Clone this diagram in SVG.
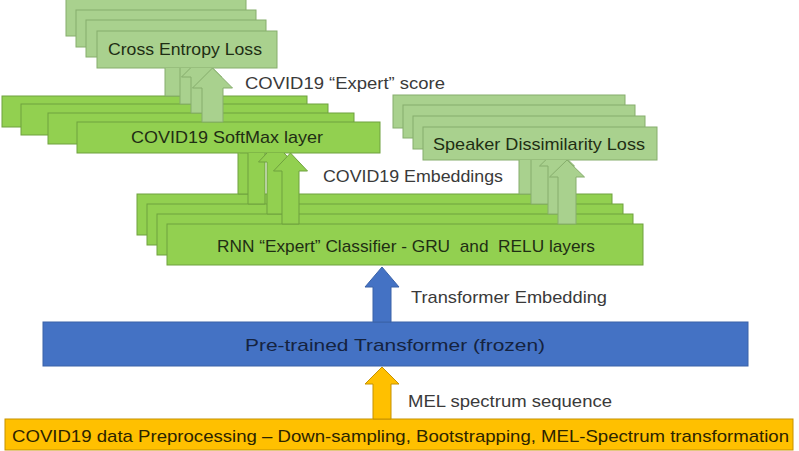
<svg xmlns="http://www.w3.org/2000/svg" width="799" height="451" viewBox="0 0 799 451">
<style>
  .dg { fill: #92d050; stroke: #6fa13e; stroke-width: 1; }
  .lg { fill: #a9d18e; stroke: #86ad6c; stroke-width: 1; }
  .blue { fill: #4472c4; stroke: #3a62a8; stroke-width: 1; }
  .yel { fill: #ffc000; stroke: #c69200; stroke-width: 1; }
  .t { font-family: "Liberation Sans", Arial, sans-serif; font-size: 17px; white-space: pre; }
  .tin { fill: #1f2e14; }
  .tout { fill: #3a3a3a; }
  .tblue { fill: #15233f; }
  .tyel { fill: #2c2400; }
</style>
<defs>
  <clipPath id="clipB"><rect x="0" y="68" width="799" height="383"/></clipPath>
  <clipPath id="clipA"><rect x="0" y="153" width="799" height="298"/></clipPath>
  <clipPath id="clipC"><rect x="0" y="160" width="799" height="291"/></clipPath>
</defs>

<g id="softmax-layer">
  <rect class="dg" x="2" y="96" width="305" height="31"/>
  <rect class="dg" x="21" y="104" width="307" height="31"/>
  <rect class="dg" x="48" y="113" width="306" height="31"/>
  <rect class="dg" x="77" y="122" width="303" height="31"/>
  <text class="t tin" x="131" y="143" textLength="192" lengthAdjust="spacingAndGlyphs">COVID19 SoftMax layer</text>
</g>

<g id="cross-entropy-loss">
  <rect class="lg" x="66" y="-1" width="180" height="37"/>
  <rect class="lg" x="76" y="10" width="180" height="37"/>
  <rect class="lg" x="86" y="20" width="180" height="37"/>
  <rect class="lg" x="97" y="31" width="180" height="37"/>
  <text class="t tin" x="108" y="55" textLength="154" lengthAdjust="spacingAndGlyphs">Cross Entropy Loss</text>
</g>

<g id="speaker-dissimilarity-loss">
  <rect class="lg" x="393" y="95" width="232" height="33"/>
  <rect class="lg" x="403" y="105" width="232" height="33"/>
  <rect class="lg" x="413" y="116" width="232" height="33"/>
  <rect class="lg" x="423" y="127" width="234" height="33"/>
  <text class="t tin" x="433" y="150" textLength="212" lengthAdjust="spacingAndGlyphs">Speaker Dissimilarity Loss</text>
</g>

<g id="rnn-classifier">
  <rect class="dg" x="137" y="194" width="475" height="41"/>
  <rect class="dg" x="147" y="204" width="476" height="41"/>
  <rect class="dg" x="157" y="214" width="476" height="41"/>
  <rect class="dg" x="167" y="224" width="476" height="41"/>
  <text class="t tin" xml:space="preserve" x="217" y="252" textLength="378" lengthAdjust="spacingAndGlyphs">RNN “Expert” Classifier - GRU  and  RELU layers</text>
</g>

<g id="transformer">
  <rect class="blue" x="43" y="322" width="705" height="44"/>
  <text class="t tblue" x="245" y="351" textLength="300" lengthAdjust="spacingAndGlyphs">Pre-trained Transformer (frozen)</text>
</g>

<g id="preprocessing">
  <rect class="yel" x="5" y="419" width="788" height="31"/>
  <text class="t tyel" x="12" y="442" textLength="777" lengthAdjust="spacingAndGlyphs">COVID19 data Preprocessing – Down-sampling, Bootstrapping, MEL-Spectrum transformation</text>
</g>

<g id="connectors">
  <g clip-path="url(#clipB)">
    <polygon class="lg" points="175.5,36 195.5,56 186,56 186,96 165,96 165,56 155.5,56"/>
    <polygon class="lg" points="190.5,47 210.5,67 201,67 201,104 180,104 180,67 170.5,67"/>
    <polygon class="lg" points="201.5,57 221.5,77 212,77 212,113 191,113 191,77 181.5,77"/>
    <polygon class="lg" points="212.5,68 232.5,88 223,88 223,122 202,122 202,88 192.5,88"/>
  </g>
  <g clip-path="url(#clipA)">
    <polygon class="dg" points="246.5,127 263.5,145 255,145 255,194 238,194 238,145 229.5,145"/>
    <polygon class="dg" points="256.5,135 273.5,153 265,153 265,204 248,204 248,153 239.5,153"/>
    <polygon class="dg" points="275.5,144 292.5,162 284,162 284,214 267,214 267,162 258.5,162"/>
    <polygon class="dg" points="290.5,153 307.5,171 299,171 299,224 282,224 282,171 273.5,171"/>
  </g>
  <g clip-path="url(#clipC)">
    <polygon class="lg" points="528,128 545.5,145 537,145 537,194 519,194 519,145 510.5,145"/>
    <polygon class="lg" points="540,138 557.5,155 549,155 549,204 531,204 531,155 522.5,155"/>
    <polygon class="lg" points="557,149 574.5,166 566,166 566,214 548,214 548,166 539.5,166"/>
    <polygon class="lg" points="567,160 584.5,177 576,177 576,224 558,224 558,177 549.5,177"/>
  </g>
  <polygon class="blue" points="382,267 399,287 391,287 391,322 373,322 373,287 365,287"/>
  <polygon class="yel" points="382,367 399,384 391,384 391,419 373,419 373,384 365,384"/>
  <text class="t tout" x="245" y="89" textLength="200" lengthAdjust="spacingAndGlyphs">COVID19 “Expert” score</text>
  <text class="t tout" x="323" y="182" textLength="180" lengthAdjust="spacingAndGlyphs">COVID19 Embeddings</text>
  <text class="t tout" x="411" y="303" textLength="196" lengthAdjust="spacingAndGlyphs">Transformer Embedding</text>
  <text class="t tout" x="408" y="407" textLength="204" lengthAdjust="spacingAndGlyphs">MEL spectrum sequence</text>
</g>
</svg>
